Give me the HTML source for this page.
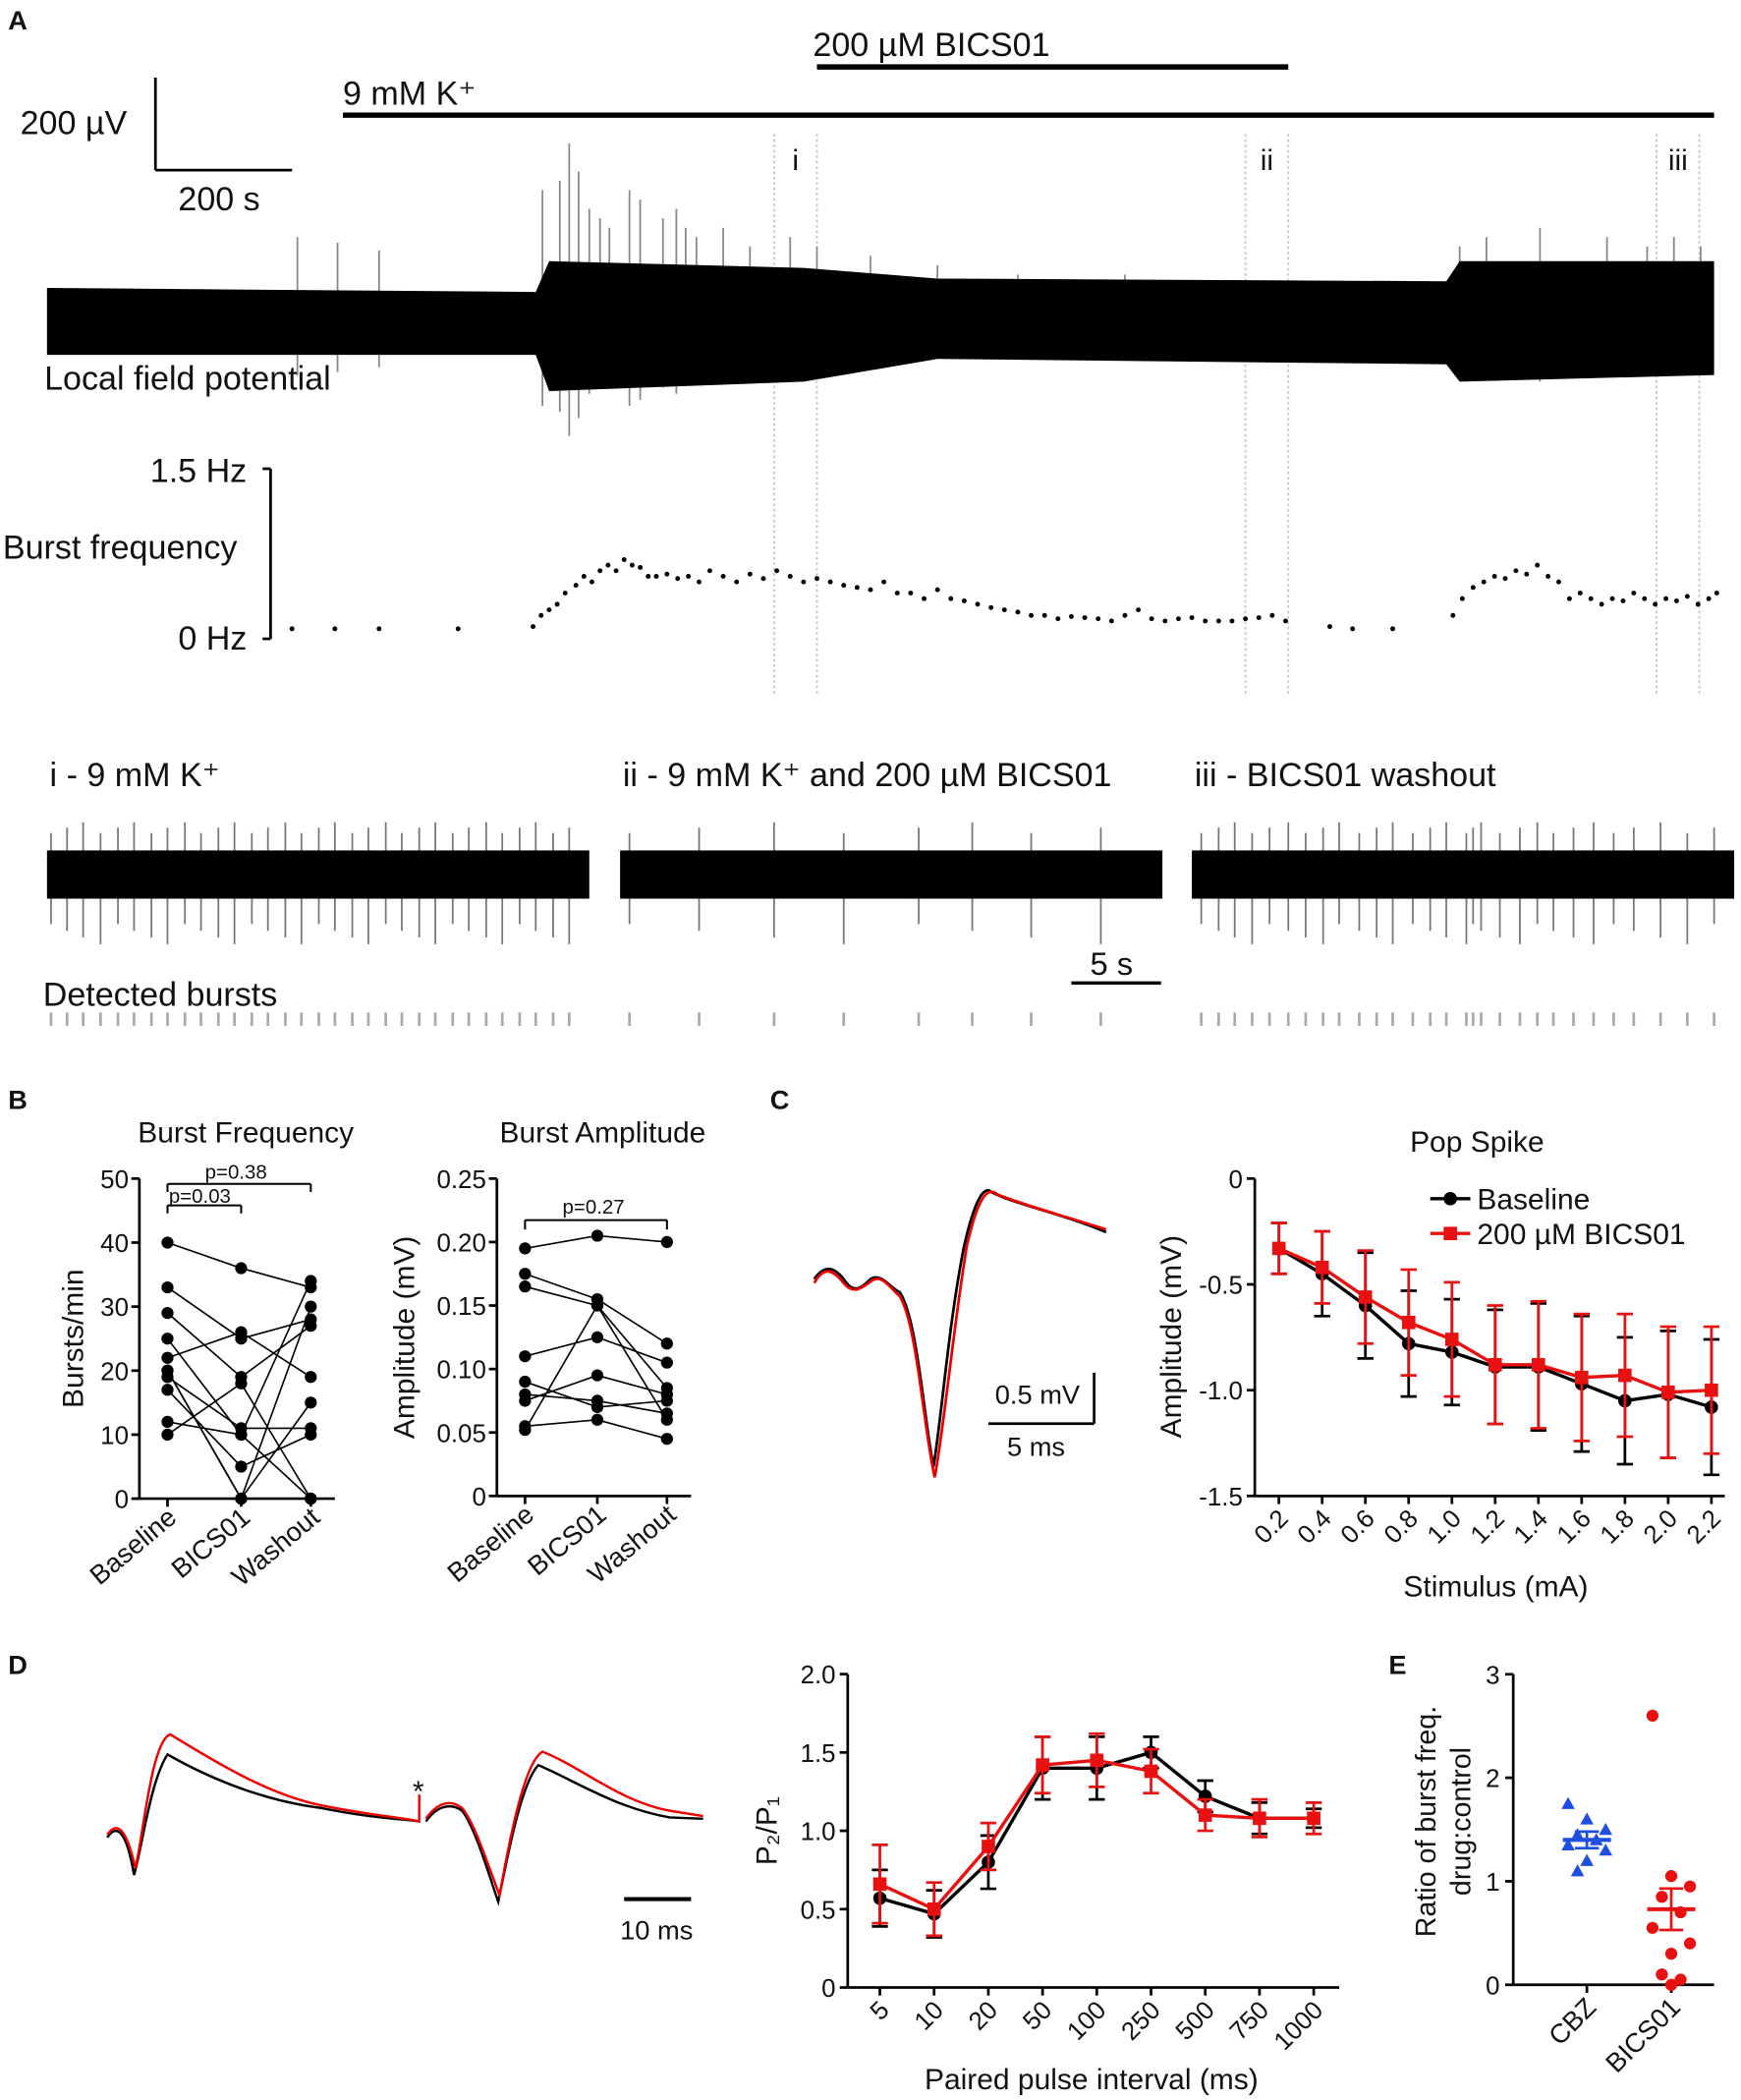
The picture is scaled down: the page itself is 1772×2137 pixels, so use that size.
<!DOCTYPE html>
<html><head><meta charset="utf-8"><style>
html,body{margin:0;padding:0;background:#fff}
svg{display:block}
text{font-family:"Liberation Sans",Arial,sans-serif;fill:#111}
</style></head><body>
<svg id="fig" xmlns="http://www.w3.org/2000/svg" width="1772" height="2137" viewBox="0 0 1300 1568">
</svg>
<script>
// ---------- DATA ----------
const lfpSpikesX=[222,252,283,405,418,425,432,440,448,455,470,478,495,505,512,520,540,560,590,610,650,700,760,840,1090,1110,1150,1200,1230,1250,1270];
const lfpSpikesH=[45,42,38,70,75,95,80,60,55,50,70,65,55,60,50,45,50,40,45,40,35,30,25,25,40,45,50,45,40,45,40];
const freqT=[218,250,283,342,398,404,410,416,422,430,436,442,448,454,460,466,472,478,484,490,498,506,514,522,530,540,550,560,570,580,590,600,610,620,630,640,650,660,670,680,690,700,710,720,730,740,750,760,770,780,790,800,810,820,830,840,850,860,870,880,890,900,910,920,930,940,950,960,993,1010,1040,1085,1092,1100,1108,1116,1124,1132,1140,1148,1156,1164,1172,1180,1188,1196,1204,1212,1220,1228,1236,1244,1252,1260,1268,1276,1282];
const freqV=[0.03,0.03,0.03,0.03,0.05,0.15,0.2,0.25,0.35,0.42,0.5,0.45,0.55,0.6,0.55,0.65,0.6,0.58,0.5,0.5,0.52,0.48,0.5,0.45,0.55,0.5,0.45,0.52,0.48,0.55,0.5,0.45,0.48,0.45,0.42,0.4,0.38,0.45,0.35,0.35,0.3,0.38,0.3,0.28,0.25,0.22,0.2,0.18,0.15,0.15,0.12,0.14,0.13,0.12,0.1,0.15,0.2,0.12,0.1,0.12,0.13,0.1,0.1,0.1,0.12,0.13,0.15,0.1,0.05,0.03,0.03,0.15,0.3,0.4,0.45,0.5,0.48,0.55,0.52,0.6,0.5,0.45,0.3,0.35,0.3,0.25,0.3,0.28,0.35,0.3,0.25,0.3,0.28,0.32,0.25,0.3,0.35];
const bCats=["Baseline","BICS01","Washout"];
const bfBase=[40,33,29,25,22,20,19,17,12,10,20];
const bfBics=[36,25,19,10,26,0,11,5,10,18,0];
const bfWash=[33,28,27,0,19,15,11,10,34,0,30];
const baBase=[0.195,0.175,0.165,0.11,0.09,0.08,0.075,0.055,0.052];
const baBics=[0.205,0.155,0.15,0.125,0.07,0.075,0.095,0.06,0.15];
const baWash=[0.2,0.12,0.085,0.105,0.075,0.065,0.08,0.045,0.06];
const cCats=["0.2","0.4","0.6","0.8","1.0","1.2","1.4","1.6","1.8","2.0","2.2"];
const cBase=[-0.33,-0.45,-0.6,-0.78,-0.82,-0.89,-0.89,-0.97,-1.05,-1.02,-1.08];
const cBaseErr=[0.12,0.2,0.25,0.25,0.25,0.27,0.3,0.32,0.3,0.3,0.32];
const cBics=[-0.33,-0.42,-0.56,-0.68,-0.76,-0.88,-0.88,-0.94,-0.93,-1.01,-1.0];
const cBicsErr=[0.12,0.17,0.22,0.25,0.27,0.28,0.3,0.3,0.29,0.31,0.3];
const cTicks=[0,-0.5,-1.0,-1.5];
const dCats=["5","10","20","50","100","250","500","750","1000"];
const dBase=[0.57,0.47,0.8,1.4,1.4,1.5,1.22,1.08,1.08];
const dBaseErr=[0.18,0.15,0.17,0.2,0.2,0.1,0.1,0.1,0.06];
const dBics=[0.66,0.5,0.9,1.42,1.45,1.38,1.1,1.08,1.08];
const dBicsErr=[0.25,0.17,0.15,0.18,0.17,0.14,0.1,0.12,0.1];
const dTicks=[0,0.5,1.0,1.5,2.0];
const eCbz=[1.75,1.6,1.5,1.45,1.4,1.35,1.3,1.2,1.1];
const eBics=[2.6,1.05,0.95,0.85,0.7,0.55,0.4,0.3,0.1,0.05,0.0];
const eStats=[[1.4,0.08],[0.73,0.2]];
const burstTicksI=[38,50,62,75,88,100,113,125,138,150,163,175,188,200,213,225,238,250,263,275,288,300,313,325,338,350,363,375,388,400,413,425];
const burstTicksII=[470,522,578,630,686,726,770,822];
const burstTicksIII=[897,910,922,935,948,962,975,988,1000,1015,1028,1040,1055,1068,1080,1095,1100,1106,1120,1135,1148,1160,1175,1190,1205,1220,1240,1260,1280];

// ---------- HELPERS ----------
const NS="http://www.w3.org/2000/svg";
const svg=document.getElementById('fig');
function el(tag,attrs,parent,txt){const e=document.createElementNS(NS,tag);for(const k in attrs)e.setAttribute(k,attrs[k]);if(txt!==undefined)e.textContent=txt;(parent||svg).appendChild(e);return e;}
function T(x,y,s,size,extra,name){const e=el('text',Object.assign({x:x,y:y,'font-size':size||22},extra||{}),svg,s);

return e;}
function L(x1,y1,x2,y2,st,w,name){const e=el('line',{x1,y1,x2,y2,stroke:st||'#000','stroke-width':w||2});

return e;}

// ---------- PANEL A ----------
T(6,22,'A',20,{'font-weight':'bold'},'panel-a-letter');
T(607,42,'200 µM BICS01',25,{},'bics-label');
L(610,50,962,50,'#000',4,'bics-bar');
T(256,78,'9 mM K⁺',25,{},'k-label');
L(256,86,1280,86,'#000',4,'k-bar');
T(15,100,'200 µV',25,{},'scale-uv');
L(116,58,116,127,'#000',2,'scale-v-line');L(116,127,218,127,'#000',2,'scale-h-line');
T(133,157,'200 s',25,{},'scale-s');
[[578,610,'i'],[930,962,'ii'],[1237,1269,'iii']].forEach(([a,b,t])=>{
 const l1=L(a,100,a,520,'#ccc',1.5,'window-line');l1.setAttribute('stroke-dasharray','2,2');
 const l2=L(b,100,b,520,'#ccc',1.5,'window-line');l2.setAttribute('stroke-dasharray','2,2');
 T((a+b)/2,127,t,22,{'text-anchor':'middle'},'window-label-'+t);
});
lfpSpikesX.forEach((x,i)=>{L(x,240-lfpSpikesH[i]*1.4,x,240+lfpSpikesH[i]*0.9,'#888',1.3,'lfp-spike');});
let band=el('path',{d:'M35,215 L400,218 L410,195 L600,200 L700,208 L1080,210 L1090,195 L1280,195 L1280,280 L1090,285 L1080,272 L700,268 L600,285 L410,292 L400,265 L35,265 Z',fill:'#000'});

T(33,291,'Local field potential',25,{},'lfp-label');
// burst frequency
T(112,360,'1.5 Hz',25,{},'freq-top');T(133,485,'0 Hz',25,{},'freq-bottom');
T(2,417,'Burst frequency',25,{},'freq-label');
L(202,350,202,477,'#000',2,'freq-axis');L(196,350,202,350,'#000',2,'freq-tick');L(196,477,202,477,'#000',2,'freq-tick');
const fy=v=>472-v*(125/1.5);
freqT.forEach((t,i)=>{const c=el('circle',{cx:t,cy:fy(freqV[i]),r:1.8,fill:'#000'});
});
// zoomed traces
[[35,440,'i - 9 mM K⁺',burstTicksI],[463,868,'ii - 9 mM K⁺ and 200 µM BICS01',burstTicksII],[890,1295,'iii - BICS01 washout',burstTicksIII]].forEach(([a,b,t,ticks],k)=>{
 T(a+2,587,t,25,{},'trace-title-'+(k+1));
 ticks.forEach((x,j)=>{L(x,622-(j%3)*4,x,690+(j%4)*5,'#777',1.3,'burst-spike');L(x,756,x,766,'#aaa',2,'burst-tick');});
 const r=el('rect',{x:a,y:635,width:b-a,height:36,fill:'#000'});
 
});
L(800,734,867,734,'#000',2.5,'scale-5s');T(814,728,'5 s',24,{},'scale-5s-label');
T(32,751,'Detected bursts',25,{},'detected-label');

// ---------- PANEL B ----------
T(6,828,'B',20,{'font-weight':'bold'},'panel-b-letter');
function axisB(x0,y0,y1,ticks,fmt,yv,title,ylabel,xs,name,off){
 T((xs[0]+xs[2])/2+5,853,title,22,{'text-anchor':'middle'},name+'-title');
 L(x0,y0,x0,y1,'#000',2,name+'-y-axis');L(x0,y0,xs[2]+18,y0,'#000',2,name+'-x-axis');
 ticks.forEach(v=>{L(x0-6,yv(v),x0,yv(v),'#000',2,'y-tick');T(x0-8,yv(v)+7,fmt(v),19,{'text-anchor':'end'},'y-tick-label');});
 xs.forEach((x,i)=>{L(x,y0,x,y0+6,'#000',2,'x-tick');T(x+8,y0+16,bCats[i],20,{'text-anchor':'end',transform:`rotate(-40 ${x+8} ${y0+16})`},'x-label');});
 T(0,0,ylabel,22,{'text-anchor':'middle',transform:`rotate(-90) translate(${-(y0+y1)/2} ${x0-off})`},name+'-y-label');
}
const bfx=[125,180,232],bfy=v=>1119-v*4.78;
axisB(104,1119,880,[0,10,20,30,40,50],v=>String(v),bfy,'Burst Frequency','Bursts/min',bfx,'burst-freq',42);
bfBase.forEach((v,i)=>{const ys=[v,bfBics[i],bfWash[i]].map(bfy);
 const p=el('polyline',{points:bfx.map((x,j)=>x+','+ys[j]).join(' '),fill:'none',stroke:'#000','stroke-width':1.2});
 
 ys.forEach((y,j)=>{const c=el('circle',{cx:bfx[j],cy:y,r:4.5,fill:'#000'});});
});
L(125,906,125,900,'#000',1.5,'sig-bracket');L(125,900,180,900,'#000',1.5,'sig-bracket');L(180,900,180,906,'#000',1.5,'sig-bracket');
T(126,898,'p=0.03',15,{},'p-value');
L(125,890,125,884,'#000',1.5,'sig-bracket');L(125,884,232,884,'#000',1.5,'sig-bracket');L(232,884,232,890,'#000',1.5,'sig-bracket');
T(153,880,'p=0.38',15,{},'p-value');
const bax=[392,446,498],bay=v=>1117-v*948;
axisB(371,1117,880,[0,0.05,0.1,0.15,0.2,0.25],v=>v===0?'0':v.toFixed(2),bay,'Burst Amplitude','Amplitude (mV)',bax,'burst-amp',62);
baBase.forEach((v,i)=>{const ys=[v,baBics[i],baWash[i]].map(bay);
 const p=el('polyline',{points:bax.map((x,j)=>x+','+ys[j]).join(' '),fill:'none',stroke:'#000','stroke-width':1.2});
 
 ys.forEach((y,j)=>{const c=el('circle',{cx:bax[j],cy:y,r:4.5,fill:'#000'});});
});
L(392,918,392,911,'#000',1.5,'sig-bracket');L(392,911,498,911,'#000',1.5,'sig-bracket');L(498,911,498,918,'#000',1.5,'sig-bracket');
T(420,906,'p=0.27',15,{},'p-value');

// ---------- PANEL C ----------
T(575,828,'C',20,{'font-weight':'bold'},'panel-c-letter');
const popB='M608,955 C615,945 622,945 630,955 C638,968 645,960 650,955 C658,950 665,962 672,965 C685,985 690,1060 697,1095 C703,1060 708,990 720,930 C728,895 735,885 740,890 C760,900 790,905 826,920';
const popR='M608,958 C615,945 622,948 630,958 C638,968 645,960 650,957 C658,950 665,962 672,968 C685,990 690,1070 698,1103 C705,1065 712,990 722,930 C730,895 737,885 745,892 C765,900 795,908 826,918';
[[popB,'#000','pop-trace-baseline'],[popR,'#e00','pop-trace-bics']].forEach(([d,c,n])=>{const p=el('path',{d,fill:'none',stroke:c,'stroke-width':2});});
L(817,1025,817,1063,'#000',2,'scale-mv');L(738,1063,817,1063,'#000',2,'scale-ms');
T(743,1048,'0.5 mV',20,{},'scale-mv-label');T(752,1087,'5 ms',20,{},'scale-ms-label');
T(1103,860,'Pop Spike',22,{'text-anchor':'middle'},'pop-title');
const cx=i=>955+i*32.3,cy=v=>880+(-v)*158;
L(937,880,937,1117,'#000',2,'c-y-axis');L(937,1117,1288,1117,'#000',2,'c-x-axis');
cTicks.forEach(v=>{L(931,cy(v),937,cy(v),'#000',2,'y-tick');T(928,cy(v)+7,v===0?'0':v.toFixed(1),19,{'text-anchor':'end'},'y-tick-label');});
cCats.forEach((c,i)=>{L(cx(i),1117,cx(i),1123,'#000',2,'x-tick');T(cx(i)+8,1135,c,19,{'text-anchor':'end',transform:`rotate(-45 ${cx(i)+8} 1135)`},'x-label');});
T(0,0,'Amplitude (mV)',22,{'text-anchor':'middle',transform:'rotate(-90) translate(-998 882)'},'c-y-label');
T(1117,1192,'Stimulus (mA)',22,{'text-anchor':'middle'},'c-x-label');
function series(cats,vals,errs,xf,yf,color,marker,name){
 const p=el('polyline',{points:vals.map((v,i)=>xf(i)+','+yf(v)).join(' '),fill:'none',stroke:color,'stroke-width':2.5});
 
 vals.forEach((v,i)=>{const x=xf(i);
  L(x,yf(v-errs[i]),x,yf(v+errs[i]),color,2,name+'-errbar');
  L(x-6,yf(v-errs[i]),x+6,yf(v-errs[i]),color,2,name+'-errcap');L(x-6,yf(v+errs[i]),x+6,yf(v+errs[i]),color,2,name+'-errcap');
  let m=marker==='c'?el('circle',{cx:x,cy:yf(v),r:5,fill:color}):el('rect',{x:x-5,y:yf(v)-5,width:10,height:10,fill:color});
  
 });
}
series(cCats,cBase,cBaseErr,cx,cy,'#000','c','c-baseline');
series(cCats,cBics,cBicsErr,cx,cy,'#e81010','s','c-bics');
L(1068,895,1098,895,'#000',2.5,'legend-baseline-line');el('circle',{cx:1083,cy:895,r:5,fill:'#000'});
T(1103,903,'Baseline',22,{},'legend-baseline');
L(1068,921,1098,921,'#e81010',2.5,'legend-bics-line');el('rect',{x:1078,y:916,width:10,height:10,fill:'#e81010'});
T(1103,929,'200 µM BICS01',22,{},'legend-bics');

// ---------- PANEL D ----------
T(6,1250,'D',20,{'font-weight':'bold'},'panel-d-letter');
const ppB='M80,1372 C88,1360 95,1370 100,1400 C106,1380 112,1330 125,1310 C160,1330 200,1345 240,1350 C280,1358 300,1358 313,1360 M318,1360 C325,1350 335,1345 345,1352 C355,1365 365,1400 372,1420 C380,1380 390,1330 402,1318 C430,1330 460,1350 500,1357 L525,1358';
const ppR='M80,1370 C88,1358 95,1368 101,1395 C107,1370 113,1300 127,1295 C160,1315 200,1340 240,1348 C280,1356 300,1357 313,1360 L313,1340 M318,1358 C325,1348 335,1342 345,1350 C355,1362 365,1395 373,1415 C381,1370 392,1315 405,1308 C432,1318 462,1345 500,1352 L525,1356';
[[ppB,'#000','pp-trace-baseline'],[ppR,'#e00','pp-trace-bics']].forEach(([d,c,n])=>{const p=el('path',{d,fill:'none',stroke:c,'stroke-width':1.8});});
T(308,1345,'*',22,{},'stim-artifact');
L(466,1418,516,1418,'#000',3,'scale-10ms');T(463,1448,'10 ms',20,{},'scale-10ms-label');
const dx=i=>657+i*40.5,dy=v=>1484-v*117;
L(633,1250,633,1484,'#000',2,'d-y-axis');L(633,1484,1000,1484,'#000',2,'d-x-axis');
dTicks.forEach(v=>{L(627,dy(v),633,dy(v),'#000',2,'y-tick');T(624,dy(v)+7,v===0?'0':v.toFixed(1),19,{'text-anchor':'end'},'y-tick-label');});
dCats.forEach((c,i)=>{L(dx(i),1484,dx(i),1490,'#000',2,'x-tick');T(dx(i)+8,1502,c,19,{'text-anchor':'end',transform:`rotate(-45 ${dx(i)+8} 1502)`},'x-label');});
T(0,0,'P₂/P₁',22,{'text-anchor':'middle',transform:'rotate(-90) translate(-1367 580)'},'d-y-label');
T(815,1560,'Paired pulse interval (ms)',22,{'text-anchor':'middle'},'d-x-label');
series(dCats,dBase,dBaseErr,dx,dy,'#000','c','d-baseline');
series(dCats,dBics,dBicsErr,dx,dy,'#e81010','s','d-bics');

// ---------- PANEL E ----------
T(1037,1250,'E',20,{'font-weight':'bold'},'panel-e-letter');
const ey=v=>1482-v*77.3,ex=[1185,1248];
L(1130,1250,1130,1482,'#000',2,'e-y-axis');L(1130,1482,1280,1482,'#000',2,'e-x-axis');
[0,1,2,3].forEach(v=>{L(1124,ey(v),1130,ey(v),'#000',2,'y-tick');T(1120,ey(v)+7,String(v),19,{'text-anchor':'end'},'y-tick-label');});
['CBZ','BICS01'].forEach((c,i)=>{L(ex[i],1482,ex[i],1488,'#000',2,'x-tick');T(ex[i]+8,1500,c,20,{'text-anchor':'end',transform:`rotate(-45 ${ex[i]+8} 1500)`},'x-label');});
T(0,0,'Ratio of burst freq.',21,{'text-anchor':'middle',transform:'rotate(-90) translate(-1360 1072)'},'e-y-label');
T(0,0,'drug:control',21,{'text-anchor':'middle',transform:'rotate(-90) translate(-1360 1098)'},'e-y-label-2');
const offs=[-14,0,14,-7,7,-14,14,0,-7,7,0];
eCbz.forEach((v,i)=>{const x=ex[0]+offs[i],y=ey(v);const p=el('polygon',{points:`${x},${y-5} ${x-5},${y+4} ${x+5},${y+4}`,fill:'#1f4fe0'});});
eBics.forEach((v,i)=>{const c=el('circle',{cx:ex[1]+offs[i],cy:ey(v),r:4.5,fill:'#e81010'});});
['#1f4fe0','#e81010'].forEach((col,i)=>{const [m,s]=eStats[i],x=ex[i];
 L(x-18,ey(m),x+18,ey(m),col,3,'mean-line');L(x,ey(m-s),x,ey(m+s),col,2,'sem-bar');
 L(x-9,ey(m-s),x+9,ey(m-s),col,2,'sem-cap');L(x-9,ey(m+s),x+9,ey(m+s),col,2,'sem-cap');});
</script>
</body></html>
